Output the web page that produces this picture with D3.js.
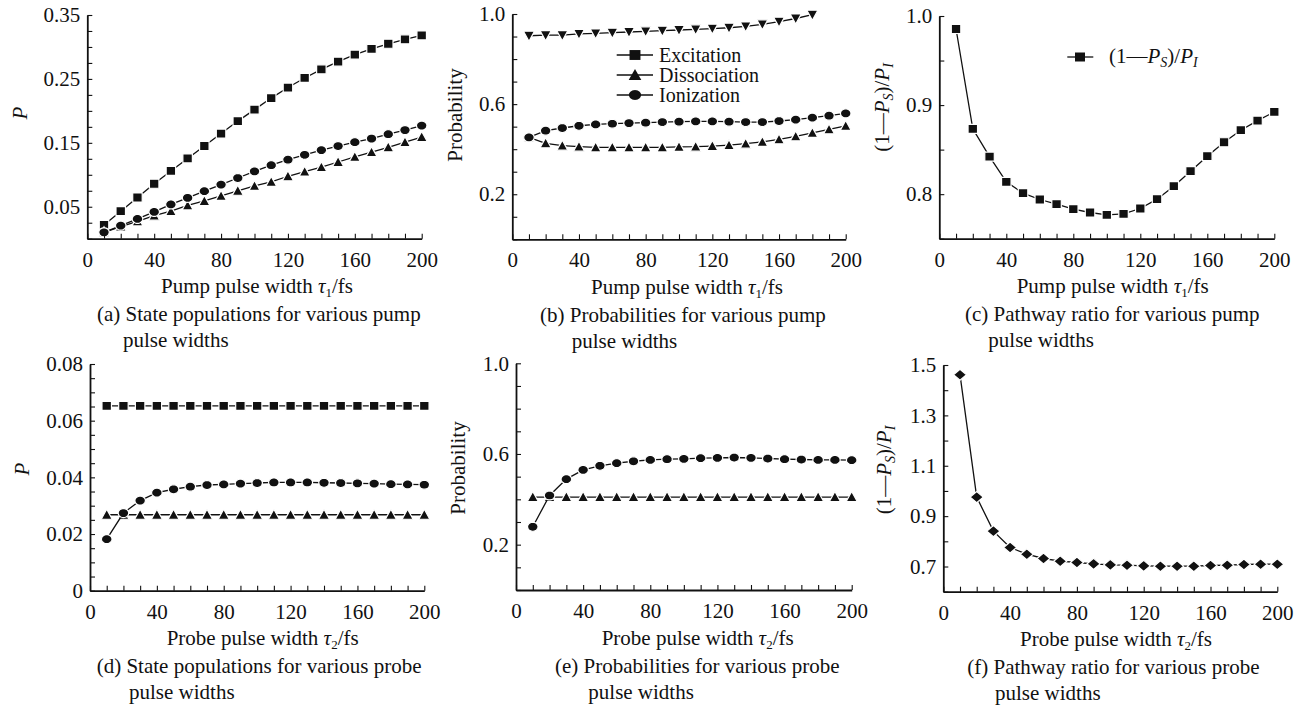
<!DOCTYPE html>
<html>
<head>
<meta charset="utf-8">
<script src="https://cdn.jsdelivr.net/npm/d3@7"></script>
<style>
body { margin: 0; background: #fff; }
svg { display: block; font-family: "Liberation Serif", "Times New Roman", serif; }
</style>
</head>
<body>
<svg id="chart" width="1308" height="708"></svg>
<script>
// pulse widths (fs) shared by every panel
const pulseWidths = [10, 20, 30, 40, 50, 60, 70, 80, 90, 100, 110, 120, 130, 140, 150, 160, 170, 180, 190, 200];
const xTickLabels = [0, 40, 80, 120, 160, 200];

// (a) state populations vs pump width
const pumpExcitation = [0.0215, 0.043, 0.0645, 0.086, 0.106, 0.1256, 0.145, 0.1645, 0.184, 0.202, 0.22, 0.2365, 0.2515, 0.265, 0.277, 0.288, 0.297, 0.305, 0.312, 0.318];
const pumpIonization = [0.010, 0.0205, 0.031, 0.042, 0.0536, 0.064, 0.0744, 0.0847, 0.095, 0.1054, 0.115, 0.1236, 0.1313, 0.1386, 0.145, 0.151, 0.1567, 0.1635, 0.170, 0.177];
const pumpDissociation = [0.010, 0.019, 0.027, 0.036, 0.043, 0.052, 0.059, 0.067, 0.075, 0.0826, 0.0889, 0.0977, 0.105, 0.112, 0.12, 0.128, 0.1355, 0.143, 0.151, 0.159];

// (b) probabilities vs pump width
const pumpProbUpper = [0.9035, 0.906, 0.906, 0.912, 0.914, 0.917, 0.92, 0.923, 0.926, 0.929, 0.932, 0.935, 0.939, 0.945, 0.954, 0.966, 0.98, 0.997];
const pumpProbIonization = [0.4525, 0.482, 0.494, 0.504, 0.51, 0.513, 0.516, 0.5175, 0.5205, 0.522, 0.5235, 0.5235, 0.522, 0.5205, 0.5205, 0.525, 0.531, 0.54, 0.5486, 0.559];
const pumpProbDissociation = [0.4525, 0.426, 0.4155, 0.411, 0.408, 0.408, 0.408, 0.408, 0.408, 0.41, 0.411, 0.414, 0.418, 0.4245, 0.432, 0.4436, 0.457, 0.472, 0.488, 0.503];

// (c) pathway ratio vs pump width
const pumpRatio = [0.9854, 0.8733, 0.8422, 0.8138, 0.8011, 0.794, 0.7888, 0.7832, 0.7794, 0.7768, 0.7779, 0.7839, 0.7944, 0.809, 0.8258, 0.8426, 0.8583, 0.8718, 0.8826, 0.8923];

// (d) state populations vs probe width
const probeExcitation = [0.0652, 0.0652, 0.0652, 0.0652, 0.0652, 0.0652, 0.0652, 0.0652, 0.0652, 0.0652, 0.0652, 0.0652, 0.0652, 0.0652, 0.0652, 0.0652, 0.0652, 0.0652, 0.0652, 0.0652];
const probeIonization = [0.0182, 0.0274, 0.0318, 0.0346, 0.0358, 0.0367, 0.0373, 0.0375, 0.0378, 0.038, 0.0382, 0.0382, 0.0382, 0.0381, 0.038, 0.0379, 0.0378, 0.0376, 0.0375, 0.0374];
const probeDissociation = [0.0268, 0.0268, 0.0268, 0.0268, 0.0268, 0.0268, 0.0268, 0.0268, 0.0268, 0.0268, 0.0268, 0.0268, 0.0268, 0.0268, 0.0268, 0.0268, 0.0268, 0.0268, 0.0268, 0.0268];

// (e) probabilities vs probe width
const probeProbIonization = [0.279, 0.417, 0.489, 0.530, 0.548, 0.5595, 0.568, 0.574, 0.577, 0.5786, 0.5815, 0.583, 0.5844, 0.583, 0.58, 0.577, 0.5756, 0.574, 0.574, 0.5727];
const probeProbDissociation = [0.41, 0.41, 0.41, 0.41, 0.41, 0.41, 0.41, 0.41, 0.41, 0.41, 0.41, 0.41, 0.41, 0.41, 0.41, 0.41, 0.41, 0.41, 0.41, 0.41];

// (f) pathway ratio vs probe width
const probeRatio = [1.4616, 0.9755, 0.8404, 0.7755, 0.749, 0.7318, 0.7212, 0.7159, 0.7106, 0.7066, 0.7053, 0.7026, 0.7013, 0.7013, 0.7013, 0.704, 0.7053, 0.708, 0.7093, 0.7093];

const legendNames = ['Excitation', 'Dissociation', 'Ionization'];

const svg = d3.select('#chart');
const ink = '#111';
const FS = 21;

// marker sizes [w, h]
const SIZES = {
    square: [9.5, 9],
    triangle: [11, 9],
    down: [11, 9],
    circle: [10.5, 9],
    diamond: [13, 11]
};

function markerPath(shape, w, h) {
    const p = d3.path();
    const a = w / 2, b = h / 2;
    if (shape === 'square') {
        p.rect(-a, -b, w, h);
    } else if (shape === 'triangle') {
        p.moveTo(0, -b - 1); p.lineTo(a, b); p.lineTo(-a, b); p.closePath();
    } else if (shape === 'down') {
        p.moveTo(0, b + 1); p.lineTo(a, -b); p.lineTo(-a, -b); p.closePath();
    } else if (shape === 'diamond') {
        p.moveTo(0, -b); p.lineTo(a, 0); p.lineTo(0, b); p.lineTo(-a, 0); p.closePath();
    } else {
        p.moveTo(a, 0);
        for (let t = 1; t <= 36; t++) {
            const ang = t / 36 * Math.PI * 2;
            p.lineTo(a * Math.cos(ang), b * Math.sin(ang));
        }
        p.closePath();
    }
    return p.toString();
}

function xTitle(g, word) {
    const t = g.append('text').attr('font-size', FS).attr('fill', ink);
    t.append('tspan').text(word + ' pulse width ');
    t.append('tspan').attr('font-style', 'italic').text('τ');
    t.append('tspan').attr('font-size', 13).attr('dy', 4).text(word === 'Pump' ? '1' : '2');
    t.append('tspan').attr('dy', -4).text('/fs');
    return t;
}

function ratioText(t, subSize) {
    t.append('tspan').text('(1—');
    t.append('tspan').attr('font-style', 'italic').text('P');
    t.append('tspan').attr('font-style', 'italic').attr('font-size', subSize).attr('dy', 4).text('S');
    t.append('tspan').attr('dy', -4).text(')/');
    t.append('tspan').attr('font-style', 'italic').text('P');
    t.append('tspan').attr('font-style', 'italic').attr('font-size', subSize).attr('dy', 4).text('I');
}

const panels = [
    { left: 87.3, right: 421.7, top: 15, bottom: 238.7, yDomain: [0, 0.35], yStep: 0.025,
      yLabels: [0.05, 0.15, 0.25, 0.35], fmt: d3.format('.2f'), word: 'Pump', titleX: 161,
      yTitle: 'P', yTitleXY: [20, 113],
      caption: ['(a) State populations for various pump', 'pulse widths'], capX: [97, 123],
      series: [
          { values: pumpExcitation, shape: 'square' },
          { values: pumpDissociation, shape: 'triangle' },
          { values: pumpIonization, shape: 'circle' }
      ] },
    { left: 512.3, right: 845.7, top: 14, bottom: 239.3, yDomain: [0, 1.0], yStep: 0.1,
      yLabels: [0.2, 0.6, 1.0], fmt: d3.format('.1f'), word: 'Pump', titleX: 591,
      yTitle: 'Probability', yTitleXY: [455, 115],
      caption: ['(b) Probabilities for various pump', 'pulse widths'], capX: [540, 571.7],
      legend: true,
      series: [
          { values: pumpProbUpper, shape: 'down' },
          { values: pumpProbDissociation, shape: 'triangle' },
          { values: pumpProbIonization, shape: 'circle' }
      ] },
    { left: 939.3, right: 1274.3, top: 16, bottom: 238.7, yDomain: [0.75, 1.0], yStep: 0.05,
      yLabels: [0.8, 0.9, 1.0], fmt: d3.format('.1f'), word: 'Pump', titleX: 1016.7,
      yTitle: 'ratio', yTitleXY: [882, 107.5],
      caption: ['(c) Pathway ratio for various pump', 'pulse widths'], capX: [965, 988.3],
      ratioLegend: true,
      series: [
          { values: pumpRatio, shape: 'square' }
      ] },
    { left: 90, right: 424.3, top: 364, bottom: 590.7, yDomain: [0, 0.08], yStep: 0.005,
      yLabels: [0, 0.02, 0.04, 0.06, 0.08], fmt: d => d === 0 ? '0' : d3.format('.2f')(d), word: 'Probe', titleX: 166.7,
      yTitle: 'P', yTitleXY: [21.7, 469],
      caption: ['(d) State populations for various probe', 'pulse widths'], capX: [96.7, 129],
      series: [
          { values: probeExcitation, shape: 'square' },
          { values: probeDissociation, shape: 'triangle' },
          { values: probeIonization, shape: 'circle' }
      ] },
    { left: 516, right: 851.7, top: 363.3, bottom: 590, yDomain: [0, 1.0], yStep: 0.1,
      yLabels: [0.2, 0.6, 1.0], fmt: d3.format('.1f'), word: 'Probe', titleX: 601.7,
      yTitle: 'Probability', yTitleXY: [457.5, 468],
      caption: ['(e) Probabilities for various probe', 'pulse widths'], capX: [555, 588.3],
      series: [
          { values: probeProbDissociation, shape: 'triangle' },
          { values: probeProbIonization, shape: 'circle' }
      ] },
    { left: 943.3, right: 1277.3, top: 365, bottom: 591.7, yDomain: [0.6, 1.5], yStep: 0.1,
      yLabels: [0.7, 0.9, 1.1, 1.3, 1.5], fmt: d3.format('.1f'), word: 'Probe', titleX: 1020,
      yTitle: 'ratio', yTitleXY: [884, 470],
      caption: ['(f) Pathway ratio for various probe', 'pulse widths'], capX: [967.3, 995],
      series: [
          { values: probeRatio, shape: 'diamond' }
      ] }
];

panels.forEach(cfg => {
    const x = d3.scaleLinear().domain([0, 200]).range([cfg.left, cfg.right]);
    const y = d3.scaleLinear().domain(cfg.yDomain).range([cfg.bottom, cfg.top]);
    const g = svg.append('g');

    // series lines + markers (white rim gives the gap between line and marker)
    cfg.series.forEach(s => {
        const pts = s.values.map((v, i) => [pulseWidths[i], v]);
        const sz = SIZES[s.shape];
        g.append('path')
            .attr('d', d3.line().x(d => x(d[0])).y(d => y(d[1]))(pts))
            .attr('fill', 'none')
            .attr('stroke', ink)
            .attr('stroke-width', 1.3);
        g.selectAll(null).data(pts).enter().append('path')
            .attr('transform', d => `translate(${x(d[0])},${y(d[1])})`)
            .attr('d', markerPath(s.shape, sz[0], sz[1]))
            .attr('fill', ink)
            .attr('stroke', '#fff')
            .attr('stroke-width', 1.2);
    });

    // axes, ticks pointing inwards
    const yTicks = d3.range(cfg.yDomain[0], cfg.yDomain[1] + 1e-9, cfg.yStep);
    const isLabel = v => cfg.yLabels.some(l => Math.abs(l - v) < 1e-9);
    const yAxis = d3.axisLeft(y).tickValues(yTicks)
        .tickSizeInner(-5).tickSizeOuter(0).tickPadding(7)
        .tickFormat(v => isLabel(v) ? cfg.fmt(v) : '');
    const xAxis = d3.axisBottom(x).tickValues(d3.range(0, 201, 10))
        .tickSizeInner(-5).tickSizeOuter(0).tickPadding(13)
        .tickFormat(v => xTickLabels.includes(v) ? v : '');

    const ya = g.append('g').attr('transform', `translate(${cfg.left},0)`).call(yAxis);
    const xa = g.append('g').attr('transform', `translate(0,${cfg.bottom})`).call(xAxis);
    [ya, xa].forEach(a => {
        a.select('.domain').attr('stroke', ink).attr('stroke-width', 1.8);
        a.selectAll('.tick line').attr('stroke', ink).attr('stroke-width', 1.1);
        a.selectAll('.tick text').attr('font-size', FS).attr('fill', ink)
            .attr('font-family', '"Liberation Serif", "Times New Roman", serif');
    });

    // x title
    xTitle(g, cfg.word).attr('x', cfg.titleX).attr('y', cfg.bottom + 54.5);

    // y title
    const yt = g.append('text')
        .attr('transform', `translate(${cfg.yTitleXY[0]},${cfg.yTitleXY[1]}) rotate(-90)`)
        .attr('text-anchor', 'middle')
        .attr('dy', '0.35em')
        .attr('font-size', FS)
        .attr('fill', ink);
    if (cfg.yTitle === 'ratio') ratioText(yt, 14);
    else if (cfg.yTitle === 'P') yt.attr('font-style', 'italic').text('P');
    else yt.text(cfg.yTitle);

    // caption
    cfg.caption.forEach((line, i) => {
        g.append('text')
            .attr('x', cfg.capX[i])
            .attr('y', cfg.bottom + 82.5 + i * 26)
            .attr('font-size', FS)
            .attr('fill', ink)
            .text(line);
    });

    if (cfg.legend) {
        const shapes = ['square', 'triangle', 'circle'];
        legendNames.forEach((name, i) => {
            const ly = 55 + i * 20;
            const sz = SIZES[shapes[i]];
            g.append('line').attr('x1', 616.7).attr('x2', 653).attr('y1', ly).attr('y2', ly)
                .attr('stroke', ink).attr('stroke-width', 1.3);
            g.append('path').attr('transform', `translate(635,${ly})`)
                .attr('d', markerPath(shapes[i], sz[0] * 1.15, sz[1] * 1.1))
                .attr('fill', ink);
            g.append('text').attr('x', 659).attr('y', ly).attr('dy', '0.35em')
                .attr('font-size', 20).attr('fill', ink).text(name);
        });
    }

    if (cfg.ratioLegend) {
        const ly = 57;
        g.append('line').attr('x1', 1067.3).attr('x2', 1093.3).attr('y1', ly).attr('y2', ly)
            .attr('stroke', ink).attr('stroke-width', 1.3);
        g.append('path').attr('transform', `translate(1080,${ly})`)
            .attr('d', markerPath('square', 10, 9)).attr('fill', ink);
        const lt = g.append('text').attr('x', 1109).attr('y', ly).attr('dy', '0.3em')
            .attr('font-size', FS).attr('fill', ink);
        ratioText(lt, 14);
    }
});
</script>
</body>
</html>
